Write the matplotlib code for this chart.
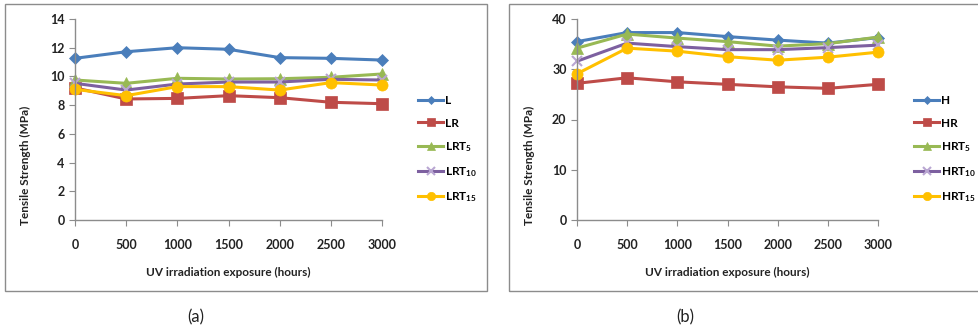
import matplotlib
matplotlib.use('Agg')
import matplotlib.pyplot as plt
from matplotlib.patches import Rectangle

plt.rcParams['font.family'] = ['Lato', 'DejaVu Sans']
plt.rcParams['mathtext.fontset'] = 'custom'
plt.rcParams['mathtext.rm'] = 'Lato'
plt.rcParams['mathtext.bf'] = 'Lato:bold'
plt.rcParams['mathtext.default'] = 'bf'

hours = [0, 500, 1000, 1500, 2000, 2500, 3000]

# panel (a)
L = [11.26, 11.72, 12.0, 11.89, 11.31, 11.26, 11.14]
LR = [9.2, 8.43, 8.47, 8.66, 8.52, 8.2, 8.1]
LRT5 = [9.75, 9.52, 9.87, 9.82, 9.84, 9.94, 10.17]
LRT10 = [9.52, 9.05, 9.47, 9.61, 9.61, 9.8, 9.75]
LRT15 = [9.1, 8.66, 9.29, 9.29, 9.05, 9.57, 9.4]

# panel (b)
H = [35.5, 37.3, 37.3, 36.5, 35.8, 35.2, 36.3]
HR = [27.2, 28.3, 27.5, 27.0, 26.5, 26.2, 27.0]
HRT5 = [34.2, 37.0, 36.2, 35.5, 34.6, 35.1, 36.4]
HRT10 = [31.6, 35.2, 34.5, 33.9, 33.9, 34.3, 34.8]
HRT15 = [29.1, 34.2, 33.6, 32.5, 31.8, 32.4, 33.4]

labels_a = ['L', 'LR', 'LRT$_5$', 'LRT$_{10}$', 'LRT$_{15}$']
labels_b = ['H', 'HR', 'HRT$_5$', 'HRT$_{10}$', 'HRT$_{15}$']

colors = ['#4A7EBB', '#BE4B48', '#98B954', '#7D60A0', '#FFC000']
markers = ['D', 's', '^', 'x', 'o']
msizes = [6, 8, 8, 7, 8]

W, Hpx = 979, 331
fig = plt.figure(figsize=(W / 100, Hpx / 100), dpi=100)


def fx(px):
    return px / W


def fy(py):
    return 1 - py / Hpx


# frames around the panels
fig.patches.append(Rectangle((fx(5), fy(291)), fx(482), fy(4) - fy(291),
                             transform=fig.transFigure, fill=False,
                             ec='#8c8c8c', lw=1.0))
fig.patches.append(Rectangle((fx(509), fy(291)), fx(480), fy(4) - fy(291),
                             transform=fig.transFigure, fill=False,
                             ec='#8c8c8c', lw=1.0))


def panel(left, right, series, labels, ymax, ystep, ylab_x, leg_x):
    ax = fig.add_axes([fx(left), fy(220), fx(right - left), fy(19) - fy(220)])
    for vals, lab, c, m, ms in zip(series, labels, colors, markers, msizes):
        mc = '#B9A6D2' if m == 'x' else c
        ax.plot(hours, vals, color=c, lw=2.2, marker=m, ms=ms,
                mfc=mc, mec=mc, mew=1.5 if m == 'x' else 0.5, label=lab,
                clip_on=False)
    ax.set_xlim(0, 3000)
    ax.set_ylim(0, ymax)
    ax.set_xticks(hours)
    ax.set_yticks(range(0, ymax + 1, ystep))
    for s in ['top', 'right']:
        ax.spines[s].set_visible(False)
    for s in ['left', 'bottom']:
        ax.spines[s].set_color('#8c8c8c')
        ax.spines[s].set_linewidth(1.0)
    ax.tick_params(axis='both', colors='#8c8c8c', labelcolor='#222222',
                   labelsize=9, length=4)
    ax.tick_params(axis='x', pad=10)
    for t in ax.get_xticklabels() + ax.get_yticklabels():
        t.set_fontweight('bold')
    ax.set_xlabel('UV irradiation exposure (hours)', fontsize=8.5,
                  fontweight='bold', color='#222222', labelpad=11)
    ax.set_ylabel('Tensile Strength (MPa)', fontsize=8.5, fontweight='bold',
                  color='#222222')
    ax.yaxis.set_label_coords(fx(ylab_x), 0.5, transform=fig.transFigure)
    ax.legend(loc='upper left', bbox_to_anchor=(fx(leg_x), fy(93)),
              bbox_transform=fig.transFigure, frameon=False,
              handlelength=2.1, handletextpad=0.15, labelspacing=0.95,
              borderaxespad=0, borderpad=0.2,
              prop={'size': 8.5, 'weight': 'bold'}, markerscale=0.75)
    return ax


panel(75, 382, [L, LR, LRT5, LRT10, LRT15], labels_a, 14, 2, 31, 416)
panel(577, 878, [H, HR, HRT5, HRT10, HRT15], labels_b, 40, 10, 535, 912)

fig.text(fx(196), fy(317), '(a)', fontsize=12, ha='center', va='center',
         color='#222222')
fig.text(fx(685), fy(317), '(b)', fontsize=12, ha='center', va='center',
         color='#222222')

fig.savefig('out.png', dpi=100)
